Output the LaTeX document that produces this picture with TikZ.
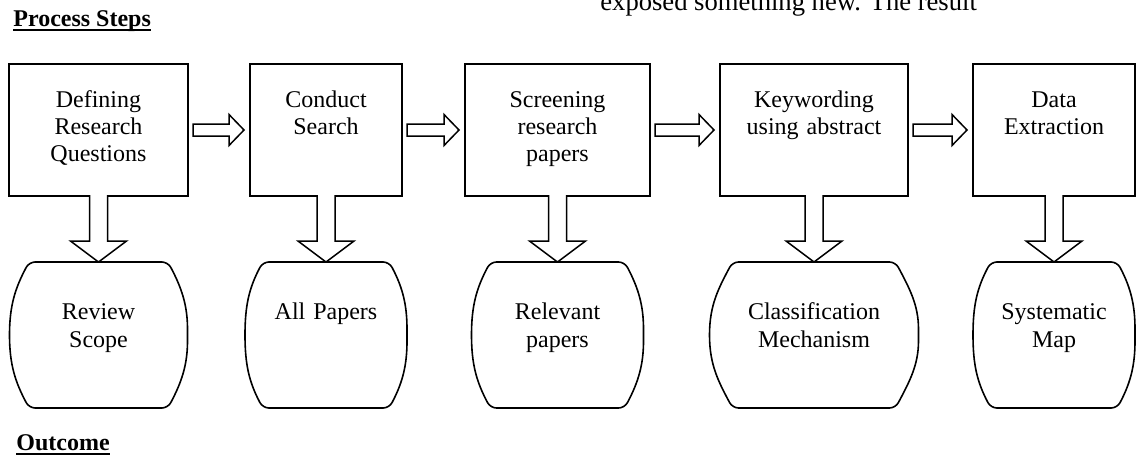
\documentclass[tikz,border=0pt]{standalone}
\usepackage{fontspec}
\setmainfont{Liberation Serif}
\usepackage{tikz}
\usetikzlibrary{positioning,calc}
\newcommand\headline[1]{\setbox0\hbox{\bfseries #1}\copy0\llap{\rule[-2.4pt]{\wd0}{0.9pt}}}
\tikzset{
  stepbox/.style={rectangle, draw, line width=0.8pt, inner sep=0pt, outer sep=0pt,
    align=center, text width=#1, text height=21.5pt, text depth=44.5pt,
    font=\fontsize{12}{13.6}\selectfont},
  outbox/.style={rectangle, inner sep=0pt, outer sep=0pt, align=center,
    text width=#1, text height=28.5pt, text depth=44.5pt,
    font=\fontsize{12}{14}\selectfont,
    append after command={\pgfextra{\draw[barrel]
      (\tikzlastnode.west) to[out=90,in=-118]
      ($(\tikzlastnode.north west)!0.11!(\tikzlastnode.north east)$) --
      ($(\tikzlastnode.north west)!0.89!(\tikzlastnode.north east)$) to[out=-62,in=90]
      (\tikzlastnode.east) to[out=-90,in=62]
      ($(\tikzlastnode.south west)!0.89!(\tikzlastnode.south east)$) --
      ($(\tikzlastnode.south west)!0.11!(\tikzlastnode.south east)$) to[out=118,in=-90]
      (\tikzlastnode.west);}}},
  barrel/.style={line width=0.8pt, rounded corners=3pt},
  rblock/.style={line width=0.75pt, to path={
    ($(\tikztostart)+(2.5pt,3pt)$) -- ($(\tikztotarget)+(-10.5pt,3pt)$) -- ++(0,4.75pt)
    -- ($(\tikztotarget)+(-3pt,0)$) -- ($(\tikztotarget)+(-10.5pt,-7.75pt)$) -- ++(0,4.75pt)
    -- ($(\tikztostart)+(2.5pt,-3pt)$) -- cycle}},
  dblock/.style={line width=0.75pt, fill=white, to path={
    ($(\tikztostart)+(-4.5pt,0.5pt)$) -- ($(\tikztotarget)+(-4.5pt,10.5pt)$) -- ++(-9.5pt,0)
    -- (\tikztotarget) -- ($(\tikztotarget)+(14pt,10.5pt)$) -- ++(-9.5pt,0)
    -- ($(\tikztostart)+(4.5pt,0.5pt)$)}},
}

\begin{document}
\begin{tikzpicture}
  \useasboundingbox (0,0) rectangle (568pt,228.5pt);

  % headings
  \node[anchor=base west, inner sep=0pt, font=\fontsize{12}{14}\selectfont] (steps) at (6.5pt,215.5pt) {\headline{Process Steps}};
  \node[anchor=base west, inner sep=0pt, font=\fontsize{12}{14}\selectfont] (outc) at (8pt,3.5pt) {\headline{Outcome}};
  \node[anchor=base west, inner sep=0pt, font=\fontsize{13.3}{16}\selectfont] (prose) at (300pt,223.5pt) {exposed something new. The result};

  % process steps
  \node[stepbox=89.5pt] (s1) at (49.25pt,163.5pt) {Defining\\Research\\Questions};
  \node[stepbox=76pt, right=31pt of s1] (s2) {Conduct\\Search};
  \node[stepbox=92.5pt, right=31.5pt of s2] (s3) {Screening\\research\\papers};
  \node[stepbox=94pt, right=35pt of s3] (s4) {Keywording\\using abstract};
  \node[stepbox=81pt, right=32.5pt of s4] (s5) {Data\\Extraction};

  % outcomes
  \node[outbox=89pt, below=33pt of s1] (o1) {Review\\Scope};
  \node[outbox=81pt, below=33pt of s2] (o2) {All Papers};
  \node[outbox=86pt, below=33pt of s3] (o3) {Relevant\\papers};
  \node[outbox=104.5pt, below=33pt of s4] (o4) {Classification\\Mechanism};
  \node[outbox=81pt, below=33pt of s5] (o5) {Systematic\\Map};

  % step to step
  \draw[rblock] (s1.east) to (s2.west);
  \draw[rblock] (s2.east) to (s3.west);
  \draw[rblock] (s3.east) to (s4.west);
  \draw[rblock] (s4.east) to (s5.west);

  % step to outcome
  \draw[dblock] (s1.south) to (o1.north);
  \draw[dblock] (s2.south) to (o2.north);
  \draw[dblock] (s3.south) to (o3.north);
  \draw[dblock] (s4.south) to (o4.north);
  \draw[dblock] (s5.south) to (o5.north);
\end{tikzpicture}
\end{document}
